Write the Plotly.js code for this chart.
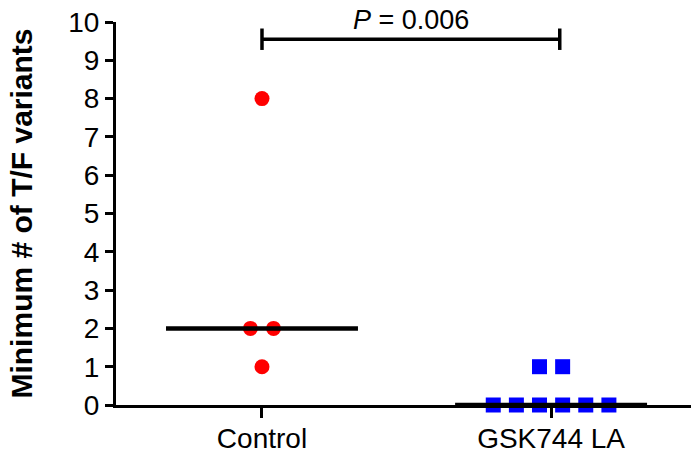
<!DOCTYPE html>
<html>
<head>
<meta charset="utf-8">
<script src="https://cdn.plot.ly/plotly-3.0.1.min.js"></script>
<style>html,body{margin:0;padding:0;background:#fff;}#chart{width:691px;height:455px;}</style>
</head>
<body>
<div id="chart"></div>
<script>
// Data
const categories = ["Control", "GSK744 LA"];
const controlValues = [8, 2, 2, 1];
const gskValues = [1, 1, 0, 0, 0, 0, 0, 0];
const pValueText = "<i>P</i> = 0.006";
const yTickLabels = ["0","1","2","3","4","5","6","7","8","9","10"];

// Helpers
function median(arr) {
  const s = arr.slice().sort((a, b) => a - b);
  const n = s.length;
  return n % 2 ? s[(n - 1) / 2] : (s[n / 2 - 1] + s[n / 2]) / 2;
}
// Scatter-dot layout: spread points sharing a value side by side around the category
function spread(values, center, step) {
  const groups = {};
  values.forEach((v, i) => { (groups[v] = groups[v] || []).push(i); });
  const xs = new Array(values.length);
  Object.keys(groups).forEach(k => {
    const idx = groups[k];
    const n = idx.length;
    idx.forEach((i, j) => { xs[i] = center + (j - (n - 1) / 2) * step; });
  });
  return xs;
}

const STEP = 0.08;
const HALF = 0.332;
const series = [controlValues, gskValues];
const traces = [];

traces.push({
  x: spread(controlValues, 0, STEP), y: controlValues,
  mode: "markers", type: "scatter",
  marker: {symbol: "circle", size: 15, color: "#ff0000", line: {width: 0}},
  cliponaxis: false, showlegend: false, name: categories[0]
});
traces.push({
  x: spread(gskValues, 1, STEP), y: gskValues,
  mode: "markers", type: "scatter",
  marker: {symbol: "square", size: 15, color: "#0000ff", line: {width: 0}},
  cliponaxis: false, showlegend: false, name: categories[1]
});

series.forEach((vals, ci) => {
  const m = median(vals);
  traces.push({
    x: [ci - HALF, ci + HALF], y: [m, m],
    mode: "lines", line: {color: "#000", width: 4.5},
    hoverinfo: "skip", showlegend: false, cliponaxis: false
  });
});

const bracketY = 9.55;
const bracketCap = 0.28;
const bx0 = 0, bx1 = 1.03;

const layout = {
  width: 691, height: 455,
  margin: {l: 116, r: 0, t: 22, b: 50},
  paper_bgcolor: "#fff", plot_bgcolor: "#fff",
  font: {family: "Liberation Sans, Arial, sans-serif", color: "#000", size: 28},
  xaxis: {
    range: [-0.505, 1.484],
    tickvals: [0, 1], ticktext: categories,
    showline: true, linecolor: "#000", linewidth: 3,
    ticks: "outside", ticklen: 10, tickwidth: 3, tickcolor: "#000",
    ticklabelstandoff: -4,
    showgrid: false, zeroline: false,
    tickfont: {size: 28}
  },
  yaxis: {
    range: [0, 10],
    tickvals: yTickLabels.map(Number), ticktext: yTickLabels,
    showline: true, linecolor: "#000", linewidth: 3,
    ticks: "outside", ticklen: 8, tickwidth: 3, tickcolor: "#000",
    showgrid: false, zeroline: false,
    tickfont: {size: 28},
    title: {text: "<b>Minimum # of T/F variants</b>", font: {size: 30}, standoff: 27}
  },
  shapes: [
    {type: "line", xref: "x", yref: "y", x0: bx0, x1: bx1, y0: bracketY, y1: bracketY, line: {color: "#000", width: 3.5}},
    {type: "line", xref: "x", yref: "y", x0: bx0, x1: bx0, y0: bracketY - bracketCap, y1: bracketY + bracketCap, line: {color: "#000", width: 3.5}},
    {type: "line", xref: "x", yref: "y", x0: bx1, x1: bx1, y0: bracketY - bracketCap, y1: bracketY + bracketCap, line: {color: "#000", width: 3.5}}
  ],
  annotations: [
    {text: pValueText, xref: "x", yref: "y", x: (bx0 + bx1) / 2, y: bracketY + 0.06,
     yanchor: "bottom", showarrow: false, font: {size: 27}}
  ],
  showlegend: false
};

Plotly.newPlot("chart", traces, layout, {displayModeBar: false, staticPlot: true});
</script>
</body>
</html>
